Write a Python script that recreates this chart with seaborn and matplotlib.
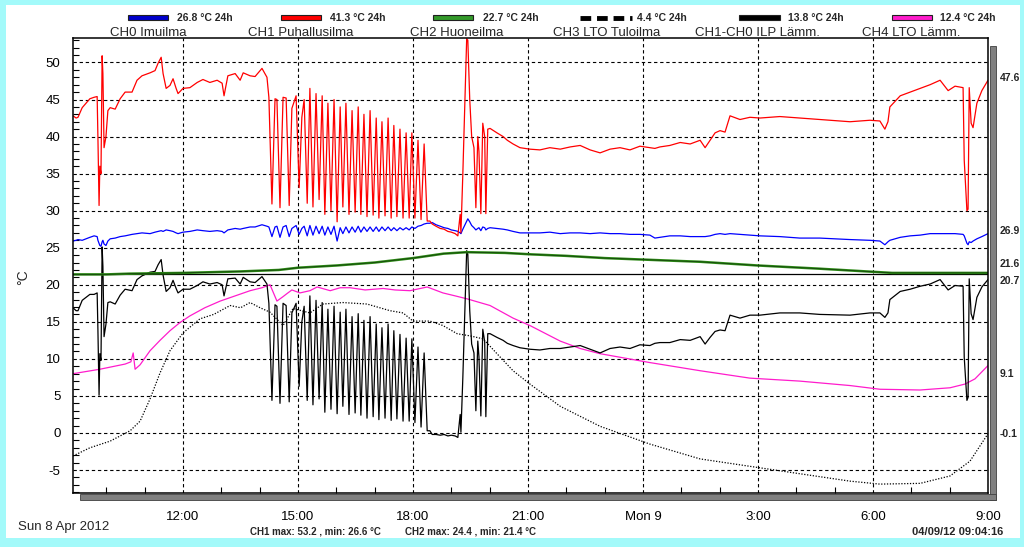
import numpy as np
import pandas as pd
import matplotlib.pyplot as plt
import seaborn as sns
from matplotlib.patches import Rectangle
from matplotlib.lines import Line2D
from matplotlib.ticker import MultipleLocator, FixedLocator
import matplotlib.transforms as mtransforms

# time in hours from Sun 8 Apr 00:00 (values above 24 are Mon 9)
t_main = [9.13, 9.21, 9.26, 9.37, 9.47, 9.57, 9.68, 9.76, 9.78, 9.81, 9.83, 9.86, 9.89, 9.91, 9.94,
          9.99, 10.04, 10.10, 10.23, 10.36, 10.49, 10.67, 10.80, 10.93, 11.14, 11.27, 11.35, 11.43,
          11.48, 11.56, 11.66, 11.74, 11.82, 11.87, 12.00, 12.18, 12.37, 12.52, 12.70, 12.89, 13.02,
          13.07, 13.17, 13.36, 13.49, 13.57, 13.75, 13.88, 14.06, 14.19, 14.24,
          14.32, 14.40, 14.45, 14.53, 14.61, 14.69, 14.77, 14.84, 14.95, 15.03, 15.10, 15.16, 15.24,
          15.31, 15.39, 15.47, 15.55, 15.63, 15.70, 15.78, 15.86, 15.94, 16.02, 16.10, 16.17, 16.25,
          16.33, 16.41, 16.49, 16.57, 16.64, 16.72, 16.80, 16.88, 16.96, 17.04, 17.11, 17.19, 17.27,
          17.35, 17.43, 17.50, 17.58, 17.66, 17.74, 17.82, 17.90, 17.97, 18.05, 18.13, 18.21, 18.29,
          18.37, 18.44,
          18.50, 18.60, 18.71, 18.81, 18.91, 19.00, 19.10, 19.17, 19.23, 19.25, 19.30, 19.40, 19.43,
          19.48, 19.53, 19.59, 19.64, 19.69, 19.72, 19.77, 19.82, 19.87, 19.90, 19.95, 20.01, 20.19,
          20.35, 20.46, 20.61, 20.79,
          21.05, 21.31, 21.57, 21.84, 22.10, 22.36, 22.62, 22.88, 23.14, 23.40, 23.66, 23.92, 24.18,
          24.31, 24.44, 24.70, 24.97, 25.23, 25.49, 25.62, 25.75, 25.88, 26.01, 26.14, 26.27, 26.53,
          26.79, 27.05, 27.57, 28.09, 28.61, 29.40, 29.92, 30.18, 30.31, 30.39, 30.44, 30.71, 30.97,
          31.23, 31.49, 31.75, 31.96, 32.14, 32.35, 32.38, 32.45, 32.48, 32.51, 32.56, 32.61, 32.71,
          32.84, 33.00]

ch1_red = [42.8, 42.5, 42.6, 43.9, 44.5, 45.1, 45.3, 45.4, 39.9, 30.7, 36.0, 35.0, 50.9, 48.5, 38.5,
           40.0, 43.5, 43.9, 43.7, 45.1, 46.0, 46.0, 47.6, 48.2, 48.6, 48.9, 49.9, 50.7,
           48.5, 46.5, 46.9, 47.8, 46.5, 45.8, 46.5, 46.6, 47.3, 47.7, 47.3, 47.6, 47.2,
           45.5, 48.2, 48.5, 47.6, 48.6, 48.2, 48.1, 49.2, 48.0, 45.3,
           30.9, 45.1, 45.0, 30.4, 45.3, 45.2, 30.7, 43.8, 45.5, 33.1, 42.6, 45.0, 31.0,
           46.5, 30.5, 45.8, 31.5, 45.5, 29.5, 44.5, 30.0, 45.0, 28.5, 44.0, 30.5, 44.5,
           29.5, 43.5, 29.8, 44.0, 29.5, 43.0, 29.2, 43.5, 29.4, 42.5, 29.0, 42.0, 29.3,
           42.5, 29.0, 41.5, 29.2, 41.0, 29.0, 40.5, 29.0, 40.5, 29.0, 39.5, 28.8, 39.0,
           28.6, 28.6,
           28.2, 27.9, 27.6, 27.5, 27.2, 27.1, 26.9, 26.6, 29.5, 27.0, 35.0, 53.2, 53.0,
           45.0, 40.0, 38.5, 30.4, 40.0, 38.0, 29.6, 41.8, 40.0, 29.6, 41.0, 41.1, 40.5,
           40.0, 39.5, 39.0, 38.5,
           38.3, 38.2, 38.5, 38.3, 38.6, 38.8, 38.2, 37.8, 38.3, 38.5, 38.2, 38.7, 38.5,
           38.4, 38.6, 38.8, 39.2, 39.0, 39.5, 38.5, 39.5, 40.5, 40.8, 40.6, 42.8, 42.3,
           42.6, 42.5, 42.7, 42.5, 42.3, 42.0, 42.2, 42.1, 41.0, 42.0, 44.0, 45.5, 46.0,
           46.5, 47.0, 47.6, 46.2, 46.8, 46.6, 36.8, 30.0, 30.2, 46.6, 41.8, 41.2, 44.5,
           46.2, 47.6]

ch0_blue = [25.9, 26.0, 26.1, 26.0, 26.2, 26.4, 26.6, 26.5, 26.0, 25.6, 25.3, 25.2, 25.8, 26.0, 25.5,
            25.3, 25.9, 26.2, 26.3, 26.5, 26.6, 26.8, 26.9, 27.0, 26.9, 27.1, 27.2, 27.3,
            27.2, 27.4, 27.3, 27.2, 27.0, 26.9, 27.1, 27.2, 27.4, 27.3, 27.2, 27.3, 27.2,
            27.0, 27.4, 27.6, 27.5, 27.6, 27.8, 27.8, 28.1, 27.9, 27.8,
            26.5, 27.8, 27.9, 26.4, 27.8, 28.0, 26.5, 27.6, 28.0, 26.8, 27.6, 27.9, 26.6,
            28.0, 26.7, 27.9, 26.9, 27.9, 26.7, 27.8, 26.8, 27.9, 25.9, 27.7, 26.9, 27.8,
            27.0, 27.8, 27.1, 27.9, 27.1, 27.8, 27.2, 27.8, 27.2, 27.8, 27.2, 27.8, 27.3,
            27.8, 27.3, 27.7, 27.3, 27.7, 27.4, 27.7, 27.4, 27.8, 27.6, 27.9, 28.0, 28.2,
            28.3, 28.3,
            28.4, 28.1, 27.9, 27.7, 27.6, 27.4, 27.3, 27.2, 27.0, 26.9, 27.5, 28.6, 28.9,
            28.5, 28.0, 27.7, 27.4, 27.6, 27.7, 27.3, 27.8, 27.7, 27.4, 27.6, 27.7, 27.6,
            27.5, 27.4, 27.2, 27.0,
            27.0, 27.0, 27.1, 26.9, 27.0, 27.0, 26.9, 27.0, 26.9, 26.9, 26.8, 26.8, 26.7,
            26.3, 26.4, 26.6, 26.6, 26.5, 26.5, 26.5, 26.6, 26.8, 26.9, 26.8, 26.9, 26.8,
            26.7, 26.6, 26.5, 26.3, 26.3, 26.1, 26.0, 25.9, 25.4, 25.8, 26.0, 26.4, 26.6,
            26.7, 26.9, 26.9, 26.9, 26.9, 26.8, 26.6, 25.6, 25.4, 25.8, 25.7, 25.9, 26.2,
            26.5, 26.9]

t_ch2 = [9.13, 10.0, 10.6, 12.0, 13.5, 14.5, 15.0, 16.0, 17.0, 18.0, 18.8, 19.4, 20.4, 21.1,
         22.0, 23.0, 24.0, 25.5, 27.0, 28.5, 29.5, 30.5, 31.5, 33.0]
ch2_green = [21.4, 21.4, 21.5, 21.6, 21.8, 22.0, 22.3, 22.6, 23.0, 23.6, 24.2, 24.4, 24.3, 24.1,
             23.9, 23.6, 23.4, 23.1, 22.6, 22.2, 21.9, 21.6, 21.6, 21.6]
ch2_min = 21.4

t_ch4 = [9.13, 9.83, 10.49, 10.64, 10.70, 10.75, 10.88, 11.14, 11.40, 11.66, 11.92, 12.18, 12.57,
         12.97, 13.36, 13.75, 14.06, 14.27, 14.45, 14.61, 14.71, 14.84, 15.05, 15.31, 15.50, 15.84,
         16.10, 16.36, 16.75, 17.22, 17.53, 17.92, 18.37, 18.78, 19.10, 19.41, 20.01, 20.61, 21.05,
         21.84, 22.36, 22.88, 24.18, 25.49, 26.79, 28.09, 29.40, 30.18, 31.23, 32.01, 32.40, 32.66,
         33.00]
ch4_magenta = [8.0, 8.6, 9.3, 9.6, 10.8, 8.6, 9.2, 11.1, 12.5, 13.8, 14.9, 15.8, 16.9,
               17.8, 18.5, 19.2, 19.6, 20.0, 17.8, 18.4, 18.8, 19.3, 18.9, 19.2, 19.7, 19.2,
               19.6, 19.6, 19.3, 19.5, 19.3, 19.2, 19.7, 18.9, 18.5, 18.1, 17.2, 15.5, 14.5,
               12.4, 11.4, 10.7, 9.5, 8.4, 7.4, 7.0, 6.4, 5.9, 5.8, 6.1, 6.6, 7.3,
               9.1]

t_ch3 = [9.13, 9.57, 10.10, 10.62, 10.88, 11.14, 11.40, 11.66, 12.00, 12.44, 12.80, 13.23, 13.50,
         13.75, 14.01, 14.27, 14.61, 14.87, 15.31, 15.65, 16.17, 16.80, 17.40, 17.74, 18.00, 18.44,
         18.78, 19.15, 19.49, 19.83, 20.19, 20.61, 21.05, 21.84, 22.88, 24.18, 25.49, 26.79, 28.09,
         29.40, 30.18, 31.23, 32.01, 32.53, 33.00]
ch3_dotted = [-3.1, -2.0, -1.1, 0.3, 1.6, 4.6, 8.1, 11.1, 13.5, 15.4, 16.0, 17.2, 16.9,
              17.6, 16.9, 16.3, 14.5, 16.8, 16.2, 17.4, 17.6, 17.4, 16.5, 16.2, 15.1, 15.1,
              14.5, 13.4, 13.1, 12.7, 10.7, 8.4, 6.6, 3.6, 0.9, -1.5, -3.5, -4.5, -5.5,
              -6.5, -6.9, -6.8, -5.8, -3.8, -0.1]

legend_values = ["26.8 °C 24h", "41.3 °C 24h", "22.7 °C 24h", "4.4 °C 24h", "13.8 °C 24h", "12.4 °C 24h"]
channel_names = ["CH0 Imuilma", "CH1 Puhallusilma", "CH2 Huoneilma", "CH3 LTO Tuloilma",
                 "CH1-CH0 ILP Lämm.", "CH4 LTO Lämm."]
end_labels = ["47.6", "26.9", "21.6", "20.7", "9.1", "-0.1"]
x_ticks = [12, 15, 18, 21, 24, 27, 30, 33]
x_ticklabels = ["12:00", "15:00", "18:00", "21:00", "Mon 9", "3:00", "6:00", "9:00"]

df = pd.DataFrame({"t": t_main, "ch1": ch1_red, "ch0": ch0_blue})
df["diff"] = df["ch1"] - df["ch0"]

sns.set_theme(style="white")
plt.rcParams['font.family'] = ['Liberation Sans', 'DejaVu Sans']
plt.rcParams['axes.unicode_minus'] = False

W, H = 1024, 547
fig = plt.figure(figsize=(W / 100, H / 100), dpi=100)
fig.patch.set_facecolor('#a3fafa')


def px(x, y):
    return x / W, 1 - y / H


# white panel + drop shadow of the plot area
fig.patches.append(Rectangle(px(6, 538), 1014 / W, 533 / H, transform=fig.transFigure,
                             facecolor='white', edgecolor='none', zorder=-5))
fig.patches.append(Rectangle(px(990, 500), 6 / W, 454 / H, transform=fig.transFigure,
                             facecolor='#808080', edgecolor='#404040', lw=0.6, zorder=-4))
fig.patches.append(Rectangle(px(80, 500), 916 / W, 6 / H, transform=fig.transFigure,
                             facecolor='#808080', edgecolor='#404040', lw=0.6, zorder=-4))

ax = fig.add_axes([73 / W, (H - 493) / H, (988 - 73) / W, (493 - 38) / H])
ax.set_zorder(5)
ax.set_facecolor('white')

lw = 0.9
sns.lineplot(x=t_ch3, y=ch3_dotted, ax=ax, color='black', linewidth=0.9,
             linestyle=(0, (1, 1.3)), estimator=None)
sns.lineplot(x=t_ch4, y=ch4_magenta, ax=ax, color='#ff1ccc', linewidth=lw, estimator=None)
sns.lineplot(data=df, x="t", y="diff", ax=ax, color='black', linewidth=lw, estimator=None)
ax.axhline(ch2_min, color='black', lw=lw)
sns.lineplot(x=t_ch2, y=ch2_green, ax=ax, color='#2d8a16', linewidth=1.8, estimator=None)
sns.lineplot(x=t_ch2, y=ch2_green, ax=ax, color='#103a08', linewidth=0.5, estimator=None)
sns.lineplot(data=df, x="t", y="ch0", ax=ax, color='#0000ff', linewidth=lw, estimator=None)
sns.lineplot(data=df, x="t", y="ch1", ax=ax, color='#ff0000', linewidth=lw, estimator=None)

ax.set_xlim(9.13, 33.0)
ax.set_ylim(-8.1, 53.3)
ax.xaxis.set_major_locator(FixedLocator(x_ticks))
ax.set_xticklabels(x_ticklabels)
ax.xaxis.set_minor_locator(MultipleLocator(1))
ax.yaxis.set_major_locator(MultipleLocator(5))
ax.yaxis.set_minor_locator(MultipleLocator(1))
ax.grid(True, which='major', color='black', linestyle=(0, (3, 2.5)), linewidth=0.8)
ax.tick_params(axis='both', which='major', length=0, labelsize=9.5, colors='black')
ax.tick_params(axis='x', which='major', pad=13)
ax.tick_params(axis='y', which='major', pad=9)
ax.tick_params(axis='both', which='minor', length=4, width=0.8, direction='in', color='black')
ax.tick_params(axis='x', which='minor', bottom=True)
ax.tick_params(axis='y', which='minor', left=True)
for s in ax.spines.values():
    s.set_color('black')
    s.set_linewidth(1.1)
ax.set_xlabel("")
ax.set_ylabel("°C", fontsize=10)
ax.yaxis.set_label_coords(-0.047, 0.474)

# right-hand current values
label_y = [47.9, 27.3, 22.8, 20.5, 8.0, -0.1]
tr = mtransforms.blended_transform_factory(ax.transAxes, ax.transData)
for txt, yy in zip(end_labels, label_y):
    ax.text(1.013, yy, txt, transform=tr, fontsize=7.5, fontweight='bold', va='center', ha='left')

# legend row at top
sw_x = [(128, 168), (281, 321), (433, 473), (580, 632), (739, 780), (892, 932)]
sw_c = ['#0000cc', '#ff0000', '#33992a', 'black', 'black', '#ff1ccc']
val_x = [177, 330, 483, 637, 788, 940]
name_x = [148, 301, 457, 607, 757, 911]
for i in range(6):
    x0, x1 = sw_x[i]
    if i == 3:
        fig.lines.append(Line2D([x0 / W, x1 / W], [1 - 18 / H] * 2, transform=fig.transFigure,
                                color='black', lw=3.5, dashes=(2.2, 1.2)))
    else:
        fig.patches.append(Rectangle(px(x0, 20), (x1 - x0) / W, 4.5 / H, transform=fig.transFigure,
                                     facecolor=sw_c[i], edgecolor='#202020', lw=0.8))
    fig.text(*px(val_x[i], 18), legend_values[i], fontsize=7.5, fontweight='bold', va='center', ha='left')
    fig.text(*px(name_x[i], 33), channel_names[i], fontsize=9.5, va='center', ha='center')

# footer
fig.text(*px(18, 527), "Sun 8 Apr 2012", fontsize=9.5, va='center', ha='left')
fig.text(*px(250, 532), "CH1 max: 53.2 , min: 26.6 °C", fontsize=7, fontweight='bold', va='center', ha='left')
fig.text(*px(405, 532), "CH2 max: 24.4 , min: 21.4 °C", fontsize=7, fontweight='bold', va='center', ha='left')
fig.text(*px(1003, 532), "04/09/12 09:04:16", fontsize=8, fontweight='bold', va='center', ha='right')

fig.savefig("out.png", dpi=100, facecolor=fig.get_facecolor())
